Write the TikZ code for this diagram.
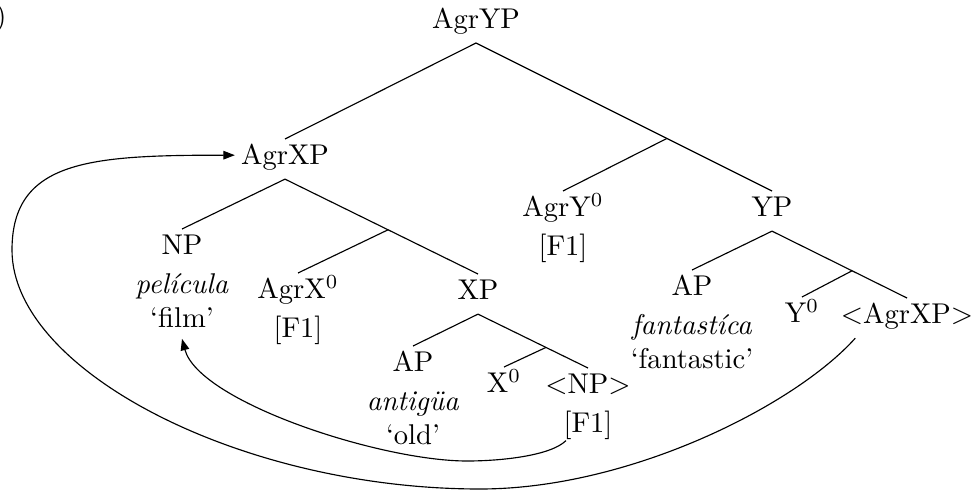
\documentclass[tikz,border=0pt]{standalone}
\usepackage{fontspec}
\usepackage{tikz}
\usetikzlibrary{positioning, arrows.meta, calc}

\begin{document}
\begin{tikzpicture}[>={Triangle[length=4pt,width=3pt]}, x=0.35pt, y=0.35pt,
  catnode/.style={inner sep=0pt, text height=8.75pt, text depth=4.9pt},
  glossnode/.style={inner sep=0pt, align=center},
  movearrow/.style={->}]

  \useasboundingbox (0,0) rectangle (977,-491);

  \node[inner sep=0pt, anchor=base east] (exnum) at (7,-26) {)};

  % top of the tree
  \node[catnode, anchor=south] (agryp) at (476,-43) {AgrYP};
  \node[catnode, anchor=north] (agrxp) at (285,-139) {AgrXP};
  \node[catnode, anchor=north] (yp) at (772,-191) {YP};
  \coordinate (agrybar) at ($(agryp.south)!0.645!(yp.north)$);
  \node[catnode, anchor=north] (agry0) at (563,-191) {AgrY$^0$};
  \node[glossnode, below=0pt of agry0] (agry0-gl) {\strut[F1]};

  % AgrXP
  \node[catnode, anchor=north] (np) at (182,-229) {NP};
  \node[glossnode, below=0pt of np] (np-gl) {\strut\textit{película}\\\strut`film'};
  \node[catnode, anchor=north] (xp) at (478,-274) {XP};
  \coordinate (agrxbar) at ($(agrxp.south)!0.534!(xp.north)$);
  \node[catnode, anchor=north] (agrx0) at (298,-273) {AgrX$^0$};
  \node[glossnode, below=0pt of agrx0] (agrx0-gl) {\strut[F1]};

  % XP
  \node[catnode, anchor=north] (apa) at (413,-346) {AP};
  \node[glossnode, below=0pt of apa] (apa-gl) {\strut\textit{antigüa}\\\strut`old'};
  \node[catnode, anchor=north] (npt) at (588,-368) {$<$NP$>$};
  \node[glossnode, below=0pt of npt] (npt-gl) {\strut[F1]};
  \coordinate (xbar) at ($(xp.south)!0.618!(npt.north)$);
  \node[catnode, anchor=north] (x0) at (504,-367) {X$^0$};

  % YP
  \node[catnode, anchor=north] (apf) at (692,-270) {AP};
  \node[glossnode, below=0pt of apf] (apf-gl) {\strut\textit{fantastíca}\\\strut`fantastic'};
  \node[catnode, anchor=north] (agrxpt) at (907,-298) {$<$AgrXP$>$};
  \coordinate (ybar) at ($(yp.south)!0.593!(agrxpt.north)$);
  \node[catnode, anchor=north] (y0) at (802,-297) {Y$^0$};

  \draw (agryp.south) -- (agrxp.north);
  \draw (agryp.south) -- (yp.north);
  \draw (agrybar) -- (agry0.north);
  \draw (agrxp.south) -- (np.north);
  \draw (agrxp.south) -- (xp.north);
  \draw (agrxbar) -- (agrx0.north);
  \draw (xp.south) -- (apa.north);
  \draw (xp.south) -- (npt.north);
  \draw (xbar) -- (x0.north);
  \draw (yp.south) -- (apf.north);
  \draw (yp.south) -- (agrxpt.north);
  \draw (ybar) -- (y0.north);

  % movement
  \coordinate (low1) at (467,-461);
  \draw[movearrow] ($(npt-gl.south west)+(3,3)$) .. controls +(-15,-15) and +(35,0) .. (low1)
    .. controls +(-87,0) and +(17,-63) .. (np-gl.south);

  \coordinate (low2) at (480,-489);
  \coordinate (left2) at (12,-250);
  \draw[movearrow, shorten >=2pt] ($(agrxpt.south west)+(15,0)$) .. controls +(-60,-67) and +(150,0) .. (low2)
    .. controls +(-240,0) and +(0,-120) .. (left2)
    .. controls +(0,90) and +(-150,0) .. (agrxp.175);

\end{tikzpicture}
\end{document}
